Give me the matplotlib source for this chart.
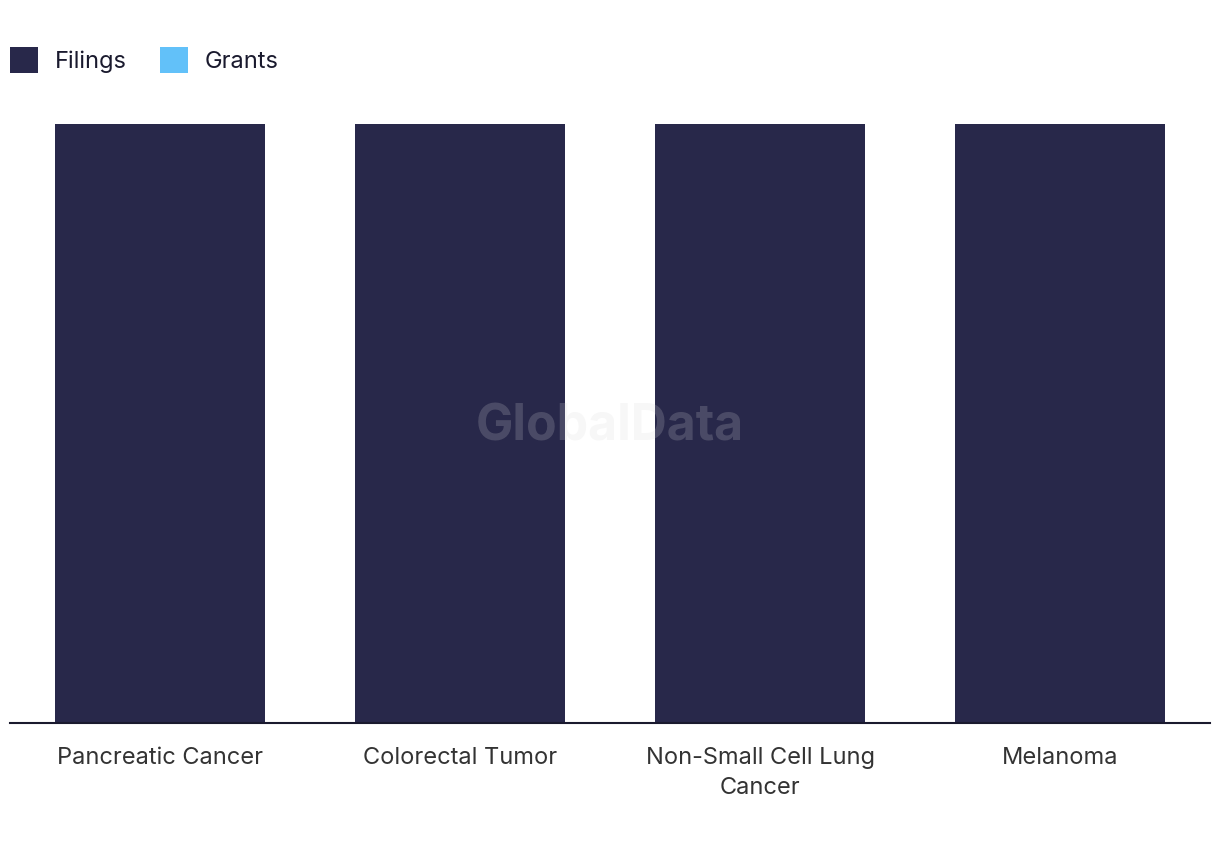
import matplotlib.pyplot as plt
import numpy as np

categories = ["Pancreatic Cancer", "Colorectal Tumor", "Non-Small Cell Lung\nCancer", "Melanoma"]
filings = [1, 1, 1, 1]
grants = [0, 0, 0, 0]

plt.rcParams['font.family'] = ['Inter', 'DejaVu Sans']

fig = plt.figure(figsize=(12.2, 8.5), dpi=100)
ax = fig.add_axes([10 / 1220, 1 - 723 / 850, 1200 / 1220, (723 - 124) / 850])

x = np.arange(len(categories))
ax.bar(x, filings, width=0.7, color='#28284a', label='Filings')
ax.bar(x, grants, width=0.7, bottom=filings, color='#62c1f9', label='Grants')

ax.set_xlim(-0.5, len(categories) - 0.5)
ax.set_ylim(0, max(filings))

for s in ['top', 'right', 'left']:
    ax.spines[s].set_visible(False)
ax.spines['bottom'].set_color('#1a1a2e')
ax.spines['bottom'].set_linewidth(1.5)
ax.set_yticks([])
ax.set_xticks(x)
ax.set_xticklabels(categories, fontsize=17, color='#333333', linespacing=1.5)
ax.tick_params(axis='x', length=0, pad=17)

leg = fig.legend(loc='upper left', bbox_to_anchor=(10 / 1220, 1 - 47 / 850), ncol=2,
                 frameon=False, fontsize=17, handlelength=1.19, handleheight=1.3,
                 handletextpad=0.72, columnspacing=1.4, borderaxespad=0, borderpad=0)
for t in leg.get_texts():
    t.set_color('#1a1a2e')

fig.text(0.5, 1 - 427 / 850, 'GlobalData', ha='center', va='center', fontsize=36,
         fontweight='bold', color='#d7d7d7', alpha=0.2)

fig.savefig('out.png', dpi=100)
